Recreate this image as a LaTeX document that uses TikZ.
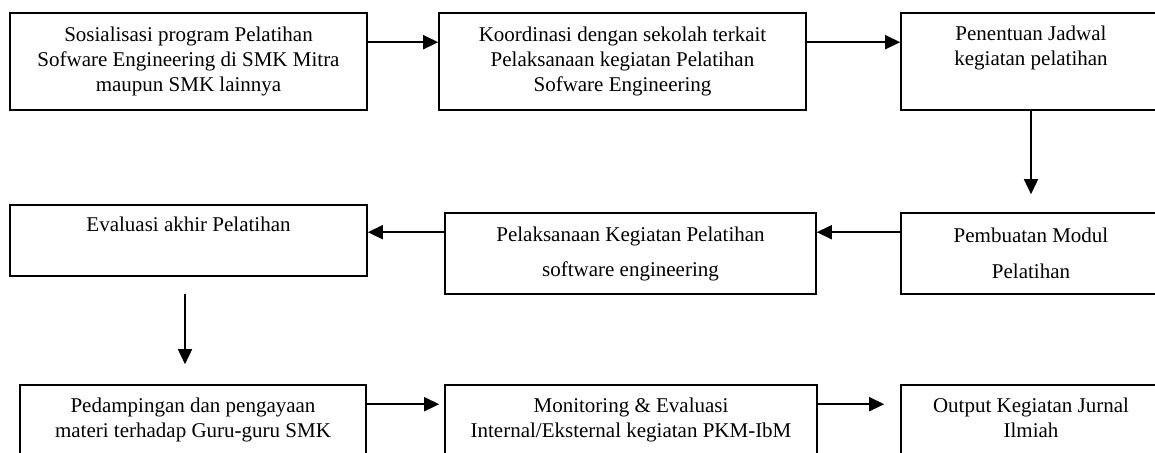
\documentclass[tikz,border=0pt]{standalone}
\usepackage{fontspec}
\setmainfont{Liberation Serif}
\usetikzlibrary{arrows.meta}

\tikzset{
  box/.style={draw,line width=1.6pt,inner sep=0pt,align=center,
    font=\fontsize{21}{25}\selectfont},
  arr/.style={line width=1.6pt,-{Triangle[length=15pt,width=14pt]}}
}

\begin{document}
\begin{tikzpicture}[x=1pt,y=-1pt]
\clip (0,0) rectangle (1155,452);

% first row
\node[box,minimum width=357pt,minimum height=97pt] (sos) at (188.5,61.5)
  {Sosialisasi program Pelatihan\\Sofware Engineering di SMK Mitra\\maupun SMK lainnya};
\node[box,minimum width=367pt,minimum height=97pt] (koor) at (622.5,61.5)
  {Koordinasi dengan sekolah terkait\\Pelaksanaan kegiatan Pelatihan\\Sofware Engineering};
\node[box,minimum width=260pt,minimum height=97pt] (jad) at (1031,61.5)
  {Penentuan Jadwal\\kegiatan pelatihan\\\strut};

% second row
\node[box,minimum width=357pt,minimum height=71pt] (eval) at (188.5,240.5)
  {Evaluasi akhir Pelatihan\\\strut};
\node[box,minimum width=371pt,minimum height=81pt] (lak) at (630.5,253.5)
  {Pelaksanaan Kegiatan Pelatihan\\[10pt]software engineering};
\node[box,minimum width=260pt,minimum height=81pt] (modul) at (1031,253.5)
  {Pembuatan Modul\\[11pt]Pelatihan};

% third row
\node[box,minimum width=346pt,minimum height=97pt] (damp) at (193,433.5)
  {Pedampingan dan pengayaan\\materi terhadap Guru-guru SMK\\\strut};
\node[box,minimum width=372pt,minimum height=97pt] (mon) at (631,433.5)
  {Monitoring \& Evaluasi\\Internal/Eksternal kegiatan PKM-IbM\\\strut};
\node[box,minimum width=260pt,minimum height=97pt] (out) at (1031,433.5)
  {Output Kegiatan Jurnal\\Ilmiah\\\strut};

% arrows
\draw[arr] ([yshift=-30pt]sos.north east) -- ([yshift=-30pt]koor.north west);
\draw[arr] ([yshift=-30pt]koor.north east) -- ([yshift=-30pt]jad.north west);
\draw[arr,shorten >=18pt] (jad.south) -- (modul.north);

\coordinate (r2) at ([yshift=-20pt]modul.north west);
\draw[arr] (r2) -- (r2 -| lak.east);
\coordinate (r2b) at ([yshift=-20pt]lak.north west);
\draw[arr] (r2b) -- (r2b -| eval.east);

\coordinate (down) at ([xshift=-3.5pt]eval.south);
\draw[arr,shorten <=17pt,shorten >=20pt] (down) -- (down |- damp.north);

\draw[arr,shorten >=5pt] ([yshift=-20pt]damp.north east) -- ([yshift=-20pt]mon.north west);
\draw[arr,shorten >=16pt] ([yshift=-20pt]mon.north east) -- ([yshift=-20pt]out.north west);
\end{tikzpicture}
\end{document}
